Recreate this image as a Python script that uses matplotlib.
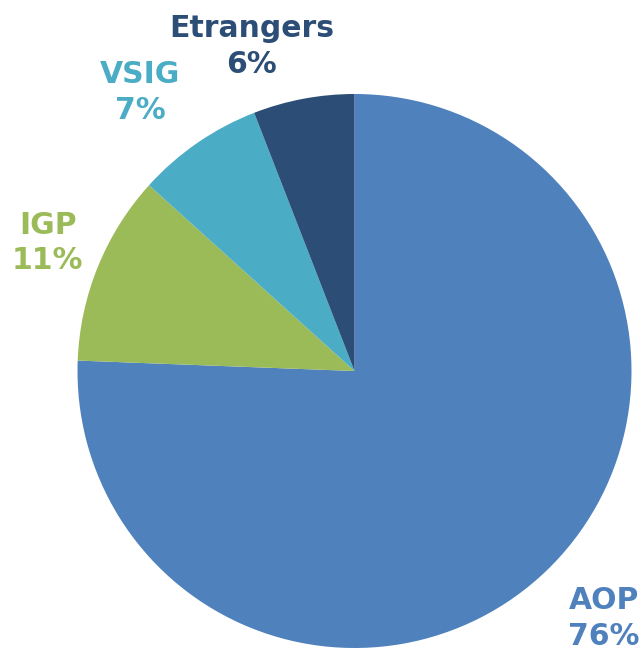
import numpy as np
import matplotlib
matplotlib.use("Agg")
import matplotlib.pyplot as plt

# data (slice angles), labels show rounded shares
categories = ["AOP", "IGP", "VSIG", "Etrangers"]
shares = [75.6, 11.1, 7.4, 5.9]
colors = ["#4F81BD", "#9BBB59", "#4BACC6", "#2C4D75"]

# label placement (radius factor, angle nudge in degrees) per slice
label_dist = [1.27, 1.20, 1.27, 1.23]
label_nudge = [1.3, -0.5, 3.0, 7.0]

W, H = 640, 653
cx, cy, r = 354.5, 371, 277

fig = plt.figure(figsize=(W / 100, H / 100), dpi=100)
ax = fig.add_axes([(cx - r) / W, (H - cy - r) / H, 2 * r / W, 2 * r / H])
ax.axis("off")

wedges, _ = ax.pie(shares, colors=colors, startangle=90, counterclock=False,
                   radius=1, wedgeprops=dict(linewidth=0))
ax.set_xlim(-1, 1)
ax.set_ylim(-1, 1)

for w, name, val, col, d, nudge in zip(wedges, categories, shares, colors, label_dist, label_nudge):
    mid = np.deg2rad((w.theta1 + w.theta2) / 2 + nudge)
    x, y = d * np.cos(mid), d * np.sin(mid)
    ax.text(x, y, f"{name}\n{round(val)}%", ha="center", va="center", color=col,
            fontsize=21.5, fontweight="bold", family=["DejaVu Sans"],
            linespacing=1.3, clip_on=False)

fig.savefig("out.png", dpi=100)
